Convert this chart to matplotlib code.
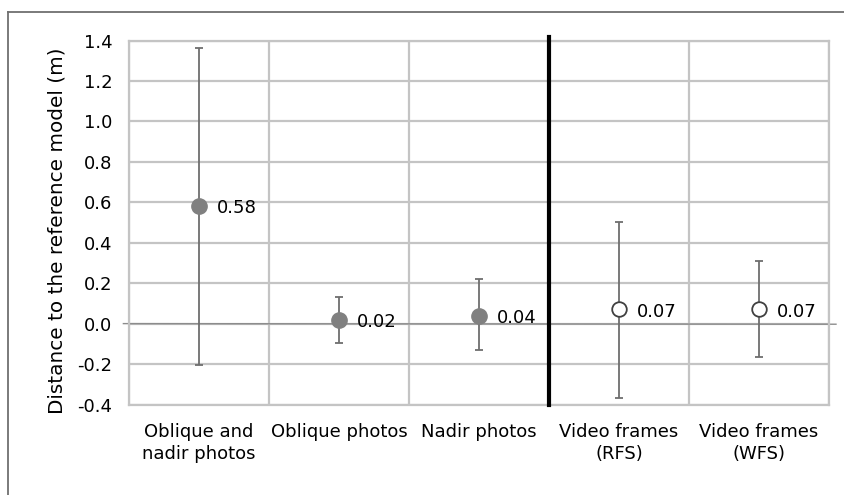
import matplotlib
matplotlib.use("Agg")
import matplotlib.pyplot as plt
from matplotlib.lines import Line2D

categories = ["Oblique and\nnadir photos", "Oblique photos", "Nadir photos",
              "Video frames\n(RFS)", "Video frames\n(WFS)"]
means = [0.58, 0.02, 0.04, 0.07, 0.07]
upper = [1.365, 0.133, 0.219, 0.504, 0.309]
lower = [-0.207, -0.098, -0.132, -0.367, -0.166]
labels = ["0.58", "0.02", "0.04", "0.07", "0.07"]
filled = [True, True, True, False, False]
yticks = [-0.4, -0.2, 0.0, 0.2, 0.4, 0.6, 0.8, 1.0, 1.2, 1.4]

plt.rcParams['font.family'] = ['DejaVu Sans']
fig = plt.figure(figsize=(8.45, 4.95), dpi=100)
ax = fig.add_axes([129/845, 1-404.5/495, (829-129)/845, (404.5-40.5)/495])

ax.set_xlim(-0.5, 4.5)
ax.set_ylim(-0.4, 1.4)
ax.set_yticks(yticks)
ax.set_yticklabels([f"{v:.1f}" for v in yticks], fontsize=13)
ax.set_xticks(range(len(categories)))
ax.set_xticklabels(categories, fontsize=13, linespacing=1.3)
ax.tick_params(axis='y', length=0, pad=12)
ax.tick_params(axis='x', length=0, pad=13)

grid_c = '#c4c4c4'
for y in yticks:
    ax.axhline(y, color=grid_c, lw=1.6, zorder=0)
for x in [-0.5, 0.5, 1.5, 2.5, 3.5, 4.5]:
    ax.axvline(x, color=grid_c, lw=1.6, zorder=0)
for s in ax.spines.values():
    s.set_color(grid_c)
    s.set_linewidth(1.6)

# zero axis line
ax.plot([-0.54, 4.55], [0, -0.003], color='#8c8c8c', lw=1.0, zorder=1, clip_on=False)

# separator
ax.plot([2.5, 2.5], [-0.4, 1.415], color='black', lw=3, zorder=3, clip_on=False)

for i, (m, u, l) in enumerate(zip(means, upper, lower)):
    ax.errorbar(i, m, yerr=[[m - l], [u - m]], fmt='none', ecolor='#6e6e6e',
                elinewidth=1.3, capsize=3, capthick=1.3, zorder=4)
    if filled[i]:
        ax.plot(i, m, 'o', ms=11, mfc='#808080', mec='#808080', zorder=5)
    else:
        ax.plot(i, m, 'o', ms=10.5, mfc='white', mec='#404040', mew=1.3, zorder=5)
    ax.annotate(labels[i], (i, m), xytext=(13, -1.5), textcoords='offset points',
                fontsize=13, va='center', ha='left', zorder=6)

ax.set_ylabel("Distance to the reference model (m)", fontsize=14.4, labelpad=8, y=0.478)

# outer frame (top and left visible)
fig.add_artist(Line2D([8.5/845, 8.5/845], [0, 1-12/495], color='#707070', lw=1.3))
fig.add_artist(Line2D([8.5/845, 1], [1-12/495, 1-12/495], color='#707070', lw=1.3))

fig.savefig("out.png", dpi=100)
